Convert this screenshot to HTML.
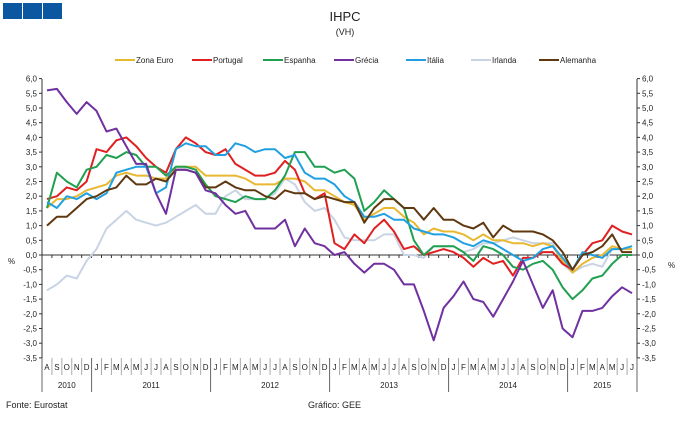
<!DOCTYPE html>
<html><head><meta charset="utf-8"><style>
body{margin:0;background:#fff;width:679px;height:417px;overflow:hidden}
svg text{font-family:"Liberation Sans",sans-serif;fill:#222}
</style></head><body>
<svg id="s" width="679" height="417" xmlns="http://www.w3.org/2000/svg">
<rect x="3" y="3" width="19" height="16" fill="#0b57a0"/><rect x="23" y="3" width="19" height="16" fill="#0b57a0"/><rect x="43" y="3" width="19" height="16" fill="#0b57a0"/>
<text x="345" y="21" font-size="13" text-anchor="middle">IHPC</text>
<text x="345" y="35" font-size="9" text-anchor="middle">(VH)</text>
<g id="g"></g>
<text x="6" y="408" font-size="9">Fonte: Eurostat</text>
<text x="308" y="408" font-size="9">Gráfico: GEE</text>
</svg>
<script>
var g=document.getElementById('g'),h='';
function Y(v){return 255-v*29.4;}
var L=42,R=637,W=(R-L)/60;
function X(i){return L+W*(i+0.5);}
// axes
h+='<line x1="'+L+'" y1="79" x2="'+L+'" y2="358" stroke="#333"/>';
h+='<line x1="'+R+'" y1="79" x2="'+R+'" y2="358" stroke="#333"/>';
h+='<line x1="'+L+'" y1="255" x2="'+R+'" y2="255" stroke="#333"/>';
for(var k=0;k<=19;k++){var v=6-k*0.5,y=Y(v),t=v.toFixed(1).replace('.',',');
h+='<line x1="'+(L-3)+'" y1="'+y+'" x2="'+L+'" y2="'+y+'" stroke="#333"/>';
h+='<line x1="'+R+'" y1="'+y+'" x2="'+(R+3)+'" y2="'+y+'" stroke="#333"/>';
h+='<text x="'+(L-5)+'" y="'+(y+3)+'" font-size="8" text-anchor="end">'+t+'</text>';
h+='<text x="'+(R+5)+'" y="'+(y+3)+'" font-size="8">'+t+'</text>';}
h+='<text x="8" y="264" font-size="8">%</text><text x="668" y="268" font-size="8">%</text>';
for(var i=0;i<=60;i++){var x=L+W*i;h+='<line x1="'+x+'" y1="255" x2="'+x+'" y2="258" stroke="#333"/>';}
var m="JFMAMJJASOND";
for(var i=0;i<60;i++){var mi=(i+7)%12;h+='<text x="'+X(i)+'" y="370" font-size="8" text-anchor="middle">'+m[mi]+'</text>';}
for(var i=0;i<=60;i++){var x=L+W*i,yr=((i+7)%12==0)||i==0||i==60;
h+='<line x1="'+x+'" y1="358" x2="'+x+'" y2="'+(yr?392:375)+'" stroke="'+(yr?'#666':'#aaa')+'"/>';}
[[2010,0,5],[2011,5,17],[2012,17,29],[2013,29,41],[2014,41,53],[2015,53,60]].forEach(function(a){
h+='<text x="'+(L+W*(a[1]+a[2])/2)+'" y="388" font-size="8" text-anchor="middle">'+a[0]+'</text>';});
var S=[
["Irlanda","#c8d4e4",[-1.2,-1.0,-0.7,-0.8,-0.2,0.2,0.9,1.2,1.5,1.2,1.1,1.0,1.1,1.3,1.5,1.7,1.4,1.4,2.0,2.2,1.9,1.9,1.9,2.1,2.6,2.4,1.8,1.5,1.6,1.2,0.6,0.5,0.5,0.5,0.7,0.7,0.0,0.0,-0.1,0.3,0.3,0.3,0.1,0.2,0.4,0.4,0.5,0.6,0.5,0.4,0.4,0.4,-0.3,-0.6,-0.4,-0.3,-0.4,0.2,0.2,0.3]],
["Zona Euro","#e8b830",[1.6,1.9,1.9,2.0,2.2,2.3,2.4,2.7,2.8,2.7,2.7,2.6,2.6,3.0,3.0,3.0,2.7,2.7,2.7,2.7,2.6,2.4,2.4,2.4,2.6,2.6,2.5,2.2,2.2,2.0,1.8,1.7,1.2,1.4,1.6,1.6,1.3,1.1,0.7,0.9,0.8,0.8,0.7,0.5,0.7,0.5,0.5,0.4,0.4,0.3,0.4,0.3,-0.2,-0.6,-0.3,-0.1,0.0,0.3,0.2,0.2]],
["Portugal","#e02020",[1.9,2.0,2.3,2.2,2.5,3.6,3.5,3.9,4.0,3.7,3.3,3.0,2.8,3.6,4.0,3.8,3.5,3.4,3.6,3.1,2.9,2.7,2.7,2.8,3.2,2.9,2.1,1.9,2.1,0.4,0.2,0.7,0.4,0.9,1.2,0.8,0.2,0.3,0.0,0.1,0.2,0.1,-0.1,-0.4,-0.1,-0.3,-0.2,-0.7,-0.1,-0.1,0.1,0.1,-0.3,-0.5,0.0,0.4,0.5,1.0,0.8,0.7]],
["Espanha","#20a050",[1.6,2.8,2.5,2.3,2.9,3.0,3.4,3.3,3.5,3.4,3.0,3.0,2.7,3.0,3.0,2.9,2.4,2.0,1.9,1.8,2.0,1.9,1.9,2.2,2.7,3.5,3.5,3.0,3.0,2.8,2.9,2.6,1.5,1.8,2.2,1.9,1.6,0.5,0.0,0.3,0.3,0.3,0.1,-0.2,0.3,0.2,0.0,-0.4,-0.5,-0.3,-0.2,-0.5,-1.1,-1.5,-1.2,-0.8,-0.7,-0.3,0.0,0.0]],
["Itália","#20a0e0",[1.8,1.6,2.0,1.9,2.1,1.9,2.1,2.8,2.9,3.0,3.0,2.1,2.3,3.6,3.8,3.7,3.7,3.4,3.4,3.8,3.7,3.5,3.6,3.6,3.3,3.4,2.8,2.6,2.6,2.4,2.0,1.8,1.3,1.3,1.4,1.2,1.2,0.9,0.8,0.7,0.7,0.6,0.4,0.3,0.5,0.4,0.2,0.0,-0.2,-0.1,0.2,0.3,-0.1,-0.5,0.1,0.0,-0.1,0.2,0.2,0.3]],
["Alemanha","#603810",[1.0,1.3,1.3,1.6,1.9,2.0,2.2,2.3,2.7,2.4,2.4,2.6,2.5,2.9,2.9,2.8,2.3,2.3,2.5,2.3,2.2,2.2,2.0,1.9,2.2,2.1,2.1,1.9,2.0,1.9,1.8,1.8,1.1,1.6,1.9,1.9,1.6,1.6,1.2,1.6,1.2,1.2,1.0,0.9,1.1,0.6,1.0,0.8,0.8,0.8,0.7,0.5,0.1,-0.5,0.0,0.1,0.3,0.7,0.1,0.1]],
["Grécia","#7030a0",[5.6,5.65,5.2,4.8,5.2,4.9,4.2,4.3,3.7,3.1,3.1,2.1,1.4,2.9,2.9,2.8,2.2,2.1,1.7,1.4,1.5,0.9,0.9,0.9,1.2,0.3,0.9,0.4,0.3,0.0,0.1,-0.3,-0.6,-0.3,-0.3,-0.5,-1.0,-1.0,-1.9,-2.9,-1.8,-1.4,-0.9,-1.5,-1.6,-2.1,-1.5,-0.9,-0.2,-1.0,-1.8,-1.2,-2.5,-2.8,-1.9,-1.9,-1.8,-1.4,-1.1,-1.3]]];
S.forEach(function(s){h+='<polyline fill="none" stroke-width="2" stroke-linejoin="round" stroke="'+s[1]+'" points="'+s[2].map(function(v,i){return X(i).toFixed(1)+','+Y(v).toFixed(1)}).join(' ')+'"/>';});
var lg=[["Zona Euro","#e8b830",115],["Portugal","#e02020",192],["Espanha","#20a050",263],["Grécia","#7030a0",334],["Itália","#20a0e0",406],["Irlanda","#c8d4e4",471],["Alemanha","#603810",539]];
lg.forEach(function(a){h+='<line x1="'+a[2]+'" y1="60" x2="'+(a[2]+20)+'" y2="60" stroke="'+a[1]+'" stroke-width="2"/><text x="'+(a[2]+21)+'" y="63" font-size="8">'+a[0]+'</text>';});
g.innerHTML=h;
</script>
</body></html>
